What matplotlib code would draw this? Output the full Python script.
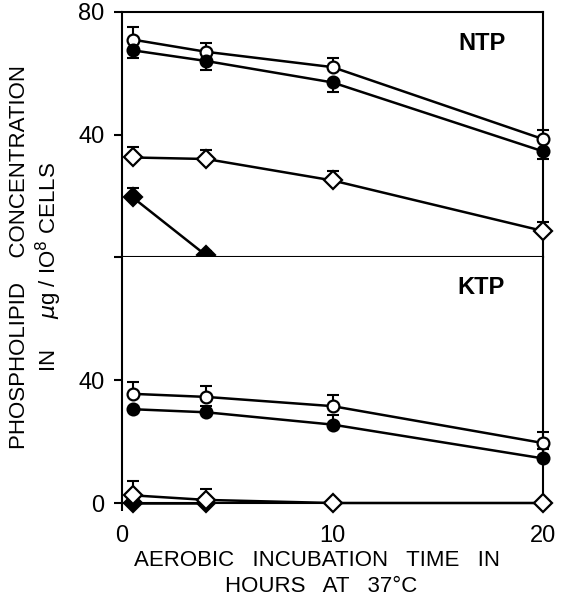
import matplotlib
matplotlib.use("Agg")
import matplotlib.pyplot as plt

plt.rcParams["font.family"] = ["Liberation Sans", "DejaVu Sans"]

# hours of aerobic incubation
x = [0.5, 4, 10, 20]

# NTP panel
ntp_open_circle = [71, 67, 62, 38.5]
ntp_open_circle_err = [4, 3, 3, 3]
ntp_filled_circle = [67.5, 64, 57, 34.5]
ntp_filled_circle_err = [2.5, 3, 3, 2.5]
ntp_open_diamond = [32.5, 32, 25, 8.5]
ntp_open_diamond_err = [3.5, 3, 3, 3]
x_ntp_filled_diamond = [0.5, 4]
ntp_filled_diamond = [19.5, 0.5]
ntp_filled_diamond_err = [3, 1.5]

# KTP panel
ktp_open_circle = [35.5, 34.5, 31.5, 19.5]
ktp_open_circle_err = [4, 3.5, 3.5, 3.5]
ktp_filled_circle = [30.5, 29.5, 25.5, 14.5]
ktp_filled_circle_err = [0, 2, 3, 3]
ktp_open_diamond = [2.5, 1, 0, 0]
ktp_open_diamond_err = [4.5, 3.5, 0, 0]
x_ktp_filled_diamond = [0.5, 4]
ktp_filled_diamond = [0, 0]

W, H = 562, 600
fig = plt.figure(figsize=(W / 100, H / 100), dpi=100)
ax_top = fig.add_axes([122 / W, 1 - 257 / H, 421 / W, 245 / H])
ax_bot = fig.add_axes([122 / W, 1 - 503 / H, 421 / W, 246 / H])


def serie(ax, xs, ys, err, marker, filled, up=True):
    fc = "black" if filled else "white"
    ms = 8.5 if marker == "o" else 9.5
    if err is not None:
        yerr = [[0] * len(err), err] if up else [err, [0] * len(err)]
        ax.errorbar(xs, ys, yerr=yerr, fmt="none", ecolor="black",
                    elinewidth=1.5, capsize=4, capthick=1.5, zorder=2, clip_on=False)
    ax.plot(xs, ys, color="black", lw=1.8, marker=marker, ms=ms,
            mfc=fc, mec="black", mew=1.6, zorder=3, clip_on=False)


serie(ax_top, x, ntp_open_circle, ntp_open_circle_err, "o", False)
serie(ax_top, x, ntp_filled_circle, ntp_filled_circle_err, "o", True, up=False)
serie(ax_top, x, ntp_open_diamond, ntp_open_diamond_err, "D", False)
serie(ax_top, x_ntp_filled_diamond, ntp_filled_diamond, ntp_filled_diamond_err, "D", True)

serie(ax_bot, x_ktp_filled_diamond, ktp_filled_diamond, None, "D", True)
serie(ax_bot, x, ktp_open_circle, ktp_open_circle_err, "o", False)
serie(ax_bot, x, ktp_filled_circle, ktp_filled_circle_err, "o", True)
serie(ax_bot, x, ktp_open_diamond, ktp_open_diamond_err, "D", False)

for ax in (ax_top, ax_bot):
    ax.set_xlim(0, 20)
    ax.set_ylim(0, 80)
    for s in ax.spines.values():
        s.set_linewidth(1.5)
    ax.tick_params(direction="out", width=1.5, length=6, labelsize=17)
    ax.tick_params(axis="y", pad=6.5)
    ax.tick_params(axis="x", pad=10)

ax_top.set_xticks([])
ax_top.set_yticks([0, 40, 80])
ax_top.set_yticklabels(["", "40", "80"])
ax_bot.spines["top"].set_visible(False)
ax_bot.set_yticks([0, 40])
ax_bot.set_xticks([0, 10, 20])

ax_top.text(482, 600 - 43, "NTP", transform=None, fontsize=17,
            fontweight="bold", ha="center", va="center")
ax_bot.text(481, 600 - 288, "KTP", transform=None, fontsize=17,
            fontweight="bold", ha="center", va="center")

fig.text(317 / W, 1 - 561 / H, "AEROBIC   INCUBATION   TIME   IN", ha="center",
         va="center", fontsize=16)
fig.text(321 / W, 1 - 587 / H, "HOURS   AT   37°C", ha="center", va="center", fontsize=16)

fig.text(20 / W, 1 - 257 / H, "PHOSPHOLIPID    CONCENTRATION", rotation=90,
         ha="center", va="center", fontsize=16)
fig.text(49 / W, 1 - 267 / H, r"IN     $\mu$g / IO$^8$ CELLS", rotation=90,
         ha="center", va="center", fontsize=16)

fig.savefig("out.png", dpi=100)
